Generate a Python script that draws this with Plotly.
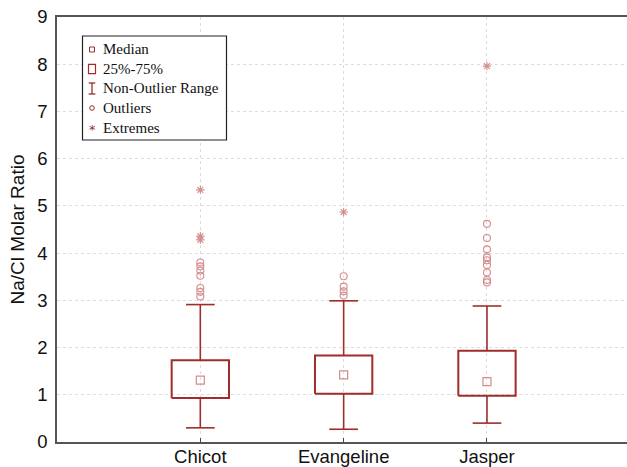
import plotly.graph_objects as go

# ---- data ----
categories = ["Chicot", "Evangeline", "Jasper"]
q1 = [0.93, 1.02, 0.98]
median = [1.31, 1.42, 1.28]
q3 = [1.73, 1.83, 1.93]
lower_whisker = [0.30, 0.27, 0.40]
upper_whisker = [2.91, 2.99, 2.88]
outliers_chicot = [3.80, 3.72, 3.63, 3.52, 3.26, 3.18, 3.08]
outliers_evangeline = [3.51, 3.29, 3.19, 3.10]
outliers_jasper = [4.62, 4.32, 4.08, 3.91, 3.85, 3.75, 3.59, 3.43, 3.38]
extremes_chicot = [5.34, 4.36, 4.28]
extremes_evangeline = [4.87]
extremes_jasper = [7.96]
y_ticks = [0, 1, 2, 3, 4, 5, 6, 7, 8, 9]
legend_labels = ["Median", "25%-75%", "Non-Outlier Range", "Outliers", "Extremes"]

outliers = [outliers_chicot, outliers_evangeline, outliers_jasper]
extremes = [extremes_chicot, extremes_evangeline, extremes_jasper]

DARK = "#a02c2c"
LIGHT = "#d48c8c"
BOX_HALF = 0.2
CAP_HALF = 0.1

W, H = 627, 467
ML, MR, MT, MB = 57, 0, 17, 25
PW, PH = W - ML - MR, H - MT - MB

fig = go.Figure()

# boxes
bx, by = [], []
for i in range(len(categories)):
    bx += [i - BOX_HALF, i + BOX_HALF, i + BOX_HALF, i - BOX_HALF, i - BOX_HALF, None]
    by += [q1[i], q1[i], q3[i], q3[i], q1[i], None]
fig.add_trace(go.Scatter(x=bx, y=by, mode="lines", line=dict(color=DARK, width=2),
                         showlegend=False, hoverinfo="skip"))

# whiskers + caps
wx, wy = [], []
for i in range(len(categories)):
    wx += [i, i, None, i, i, None]
    wy += [q3[i], upper_whisker[i], None, q1[i], lower_whisker[i], None]
    wx += [i - CAP_HALF, i + CAP_HALF, None, i - CAP_HALF, i + CAP_HALF, None]
    wy += [upper_whisker[i], upper_whisker[i], None, lower_whisker[i], lower_whisker[i], None]
fig.add_trace(go.Scatter(x=wx, y=wy, mode="lines", line=dict(color=DARK, width=1.6),
                         showlegend=False, hoverinfo="skip"))

# medians
fig.add_trace(go.Scatter(x=list(range(len(categories))), y=median, mode="markers",
                         marker=dict(symbol="square-open", size=8, color=LIGHT, line=dict(width=1.2)),
                         showlegend=False))

# outliers
ox, oy = [], []
for i, vals in enumerate(outliers):
    ox += [i] * len(vals)
    oy += vals
fig.add_trace(go.Scatter(x=ox, y=oy, mode="markers",
                         marker=dict(symbol="circle-open", size=7, color=LIGHT, line=dict(width=1.1)),
                         showlegend=False))

# extremes
ex, ey = [], []
for i, vals in enumerate(extremes):
    ex += [i] * len(vals)
    ey += vals
fig.add_trace(go.Scatter(x=ex, y=ey, mode="markers",
                         marker=dict(symbol="asterisk-open", size=7, color=LIGHT, line=dict(width=1.1)),
                         showlegend=False))

# ---- custom legend (paper coords from pixel positions) ----
def px(x):
    return (x - ML) / PW

def py(y):
    return (H - MB - y) / PH

shapes = [dict(type="rect", xref="paper", yref="paper",
               x0=px(82.5), x1=px(226.5), y0=py(140), y1=py(36),
               line=dict(color="#222", width=1.2), fillcolor="white")]
rows = [49.5, 69.0, 88.5, 108.0, 127.5]
sx = 92.0
# median symbol
shapes.append(dict(type="rect", xref="paper", yref="paper",
                   x0=px(sx - 2.5), x1=px(sx + 2.5), y0=py(rows[0] + 2.5), y1=py(rows[0] - 2.5),
                   line=dict(color=DARK, width=1)))
# box symbol
shapes.append(dict(type="rect", xref="paper", yref="paper",
                   x0=px(sx - 3.5), x1=px(sx + 3.5), y0=py(rows[1] + 4.7), y1=py(rows[1] - 4.7),
                   line=dict(color=DARK, width=1.2)))
# I-beam symbol
for (xa, ya, xb, yb) in [(sx, rows[2] - 5.5, sx, rows[2] + 5.5),
                         (sx - 3.3, rows[2] - 5.5, sx + 3.3, rows[2] - 5.5),
                         (sx - 3.3, rows[2] + 5.5, sx + 3.3, rows[2] + 5.5)]:
    shapes.append(dict(type="line", xref="paper", yref="paper",
                       x0=px(xa), x1=px(xb), y0=py(ya), y1=py(yb),
                       line=dict(color=DARK, width=1.3)))
# circle symbol
shapes.append(dict(type="circle", xref="paper", yref="paper",
                   x0=px(sx - 2.3), x1=px(sx + 2.3), y0=py(rows[3] + 2.3), y1=py(rows[3] - 2.3),
                   line=dict(color=DARK, width=1)))

annotations = []
annotations.append(dict(xref="paper", yref="paper", x=px(sx), y=py(rows[4] + 1.5),
                        text="*", showarrow=False, xanchor="center", yanchor="middle",
                        font=dict(family="DejaVu Sans", size=13, color=DARK)))
for lab, r in zip(legend_labels, rows):
    annotations.append(dict(xref="paper", yref="paper", x=px(101), y=py(r),
                            text=lab, showarrow=False, xanchor="left", yanchor="middle",
                            font=dict(family="Liberation Serif, Times New Roman", size=15, color="#111")))

fig.update_layout(
    width=W, height=H,
    margin=dict(l=ML, r=MR, t=MT, b=MB, autoexpand=False),
    plot_bgcolor="white", paper_bgcolor="white",
    shapes=shapes, annotations=annotations,
    showlegend=False,
    font=dict(family="Liberation Sans, Arial", size=18, color="#111"),
)
fig.update_xaxes(range=[-1, 2.977], tickmode="array", tickvals=list(range(len(categories))),
                 ticktext=categories, showline=True, linecolor="#555", linewidth=1.5, mirror=True,
                 ticks="inside", ticklen=4, tickcolor="#444", automargin=False,
                 showgrid=True, gridcolor="#dcdcdc", griddash="dot", gridwidth=1, zeroline=False,
                 ticklabelstandoff=-3,
                 tickfont=dict(size=18.5))
fig.update_yaxes(range=[0, 9], tickmode="array", tickvals=y_ticks, automargin=False,
                 showline=True, linecolor="#555", linewidth=1.5, mirror=False,
                 showgrid=True, gridcolor="#dcdcdc", griddash="dot", gridwidth=1, zeroline=False,
                 ticks="", ticklabelstandoff=4,
                 title=dict(text="Na/Cl Molar Ratio", font=dict(size=19), standoff=8),
                 tickfont=dict(size=18.5))

fig.write_html("out.html", config={"displayModeBar": False},
               post_script="document.body.style.margin='0px';")
